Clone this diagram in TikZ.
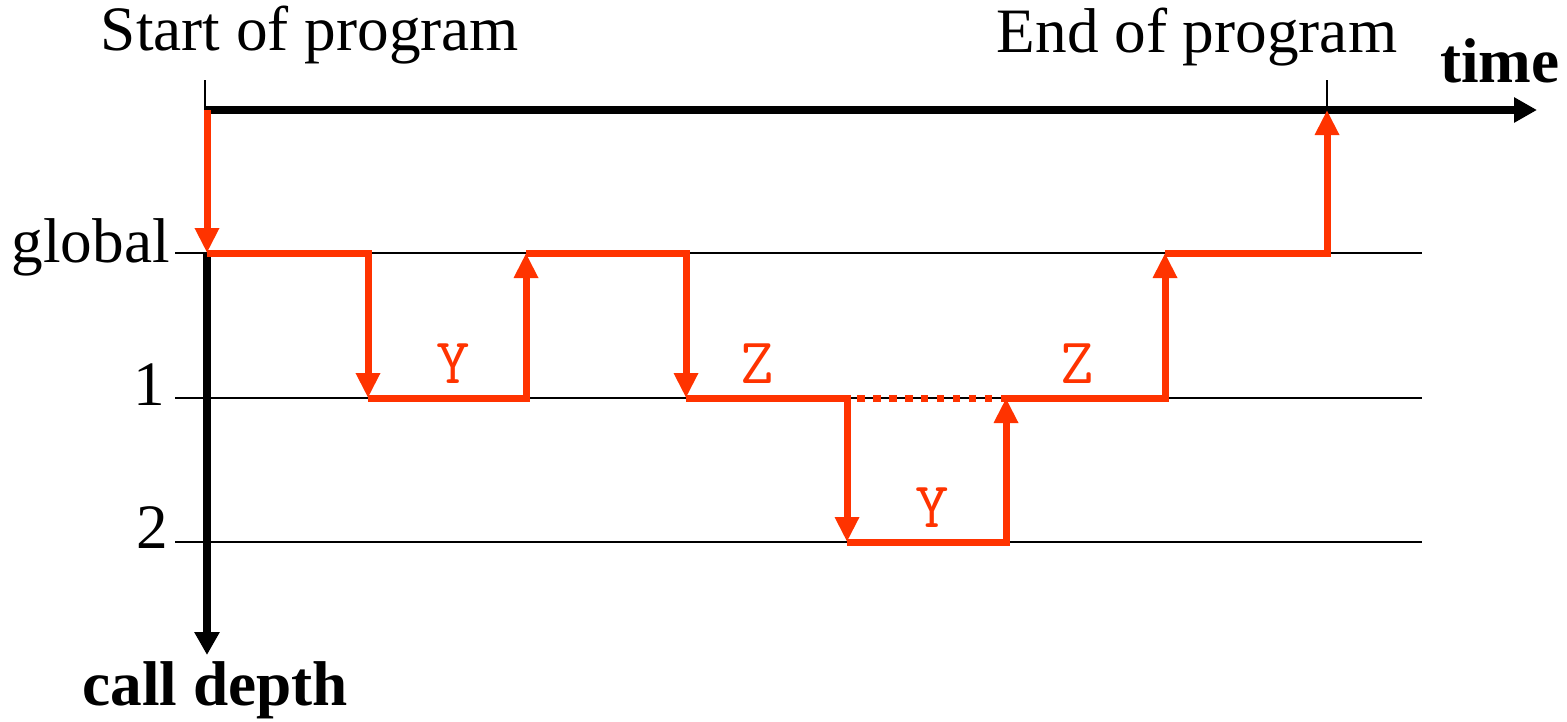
\documentclass[tikz,border=0pt]{standalone}
\usepackage{fontspec}
\setmainfont{Liberation Serif}
\usetikzlibrary{arrows.meta}
\definecolor{trace}{HTML}{FF3300}

\begin{document}
\begin{tikzpicture}[x=0.02cm, y=-0.02cm,
  every node/.style={font=\fontsize{36}{43}\selectfont, inner sep=0pt},
  axis/.style={line width=0.16cm, -{Triangle[length=0.46cm, width=0.48cm]}},
  level/.style={line width=0.04cm},
  tickline/.style={line width=0.04cm},
  call/.style={trace, line width=0.14cm, -{Triangle[length=0.5cm, width=0.46cm]}},
  skip/.style={trace, line width=0.14cm, dash pattern=on 0.15cm off 0.17cm, dash phase=-0.2cm},
  fn/.style={trace, font=\fontsize{37}{44}\ttfamily\selectfont}]
\useasboundingbox (0,0) rectangle (1567,721);

% --- Depth levels ---
\foreach \n/\y in {0/253, 1/398, 2/542}{
  \coordinate (lvl\n) at (175,\y);
  \coordinate (lvl\n e) at (1422,\y);
  \draw[level] (lvl\n) -- (lvl\n e);
}
\node[anchor=base east] (global) at (170,262) {global};
\node[anchor=base east] (one) at (165,405) {1};
\node[anchor=base east] (two) at (168,548) {2};

% --- Axes ---
\coordinate (origin) at (205,110);
\coordinate (timeend) at (1537,110);
\coordinate (depthtop) at (207,253);
\coordinate (depthend) at (207,655);
\draw[axis] (origin) -- (timeend);
\draw[axis] (depthtop) -- (depthend);
\node[anchor=base east] (time) at (1560,82) {\textbf{time}};
\node[anchor=base] (depth) at (215,705) {\textbf{call depth}};

% --- Start and end marks ---
\coordinate (starttick) at (205,80);
\coordinate (endtick) at (1327,80);
\coordinate (endfoot) at (1327,110);
\draw[tickline] (starttick) -- (origin);
\draw[tickline] (endtick) -- (endfoot);
\node[anchor=base] (start) at (310,50) {Start of program};
\node[anchor=base] (end) at (1197,52) {End of program};

% --- Call trace ---
\foreach \n/\x/\y in {0/207/110, 1/207/253, 2/368/253, 3/368/398,
                      4/526/398, 5/526/253, 6/686/253, 7/686/398,
                      8/847/398, 9/847/542, 10/1006/542, 11/1006/398,
                      12/1165/398, 13/1165/253, 14/1327/253, 15/1327/110}
  \coordinate (p\n) at (\x,\y);

\draw[call] (p0) -- (p1);
\foreach \a/\b/\c in {1/2/3, 3/4/5, 5/6/7, 7/8/9, 9/10/11, 11/12/13, 13/14/15}
  \draw[call] (p\a) -- (p\b) -- (p\c);
\draw[skip] (p8) -- (p11);

% --- Function names ---
\node[fn, anchor=base] (y1) at (453,383) {Y};
\node[fn, anchor=base] (z1) at (757,383) {Z};
\node[fn, anchor=base] (z2) at (1077,383) {Z};
\node[fn, anchor=base] (y2) at (932,527) {Y};
\end{tikzpicture}
\end{document}
